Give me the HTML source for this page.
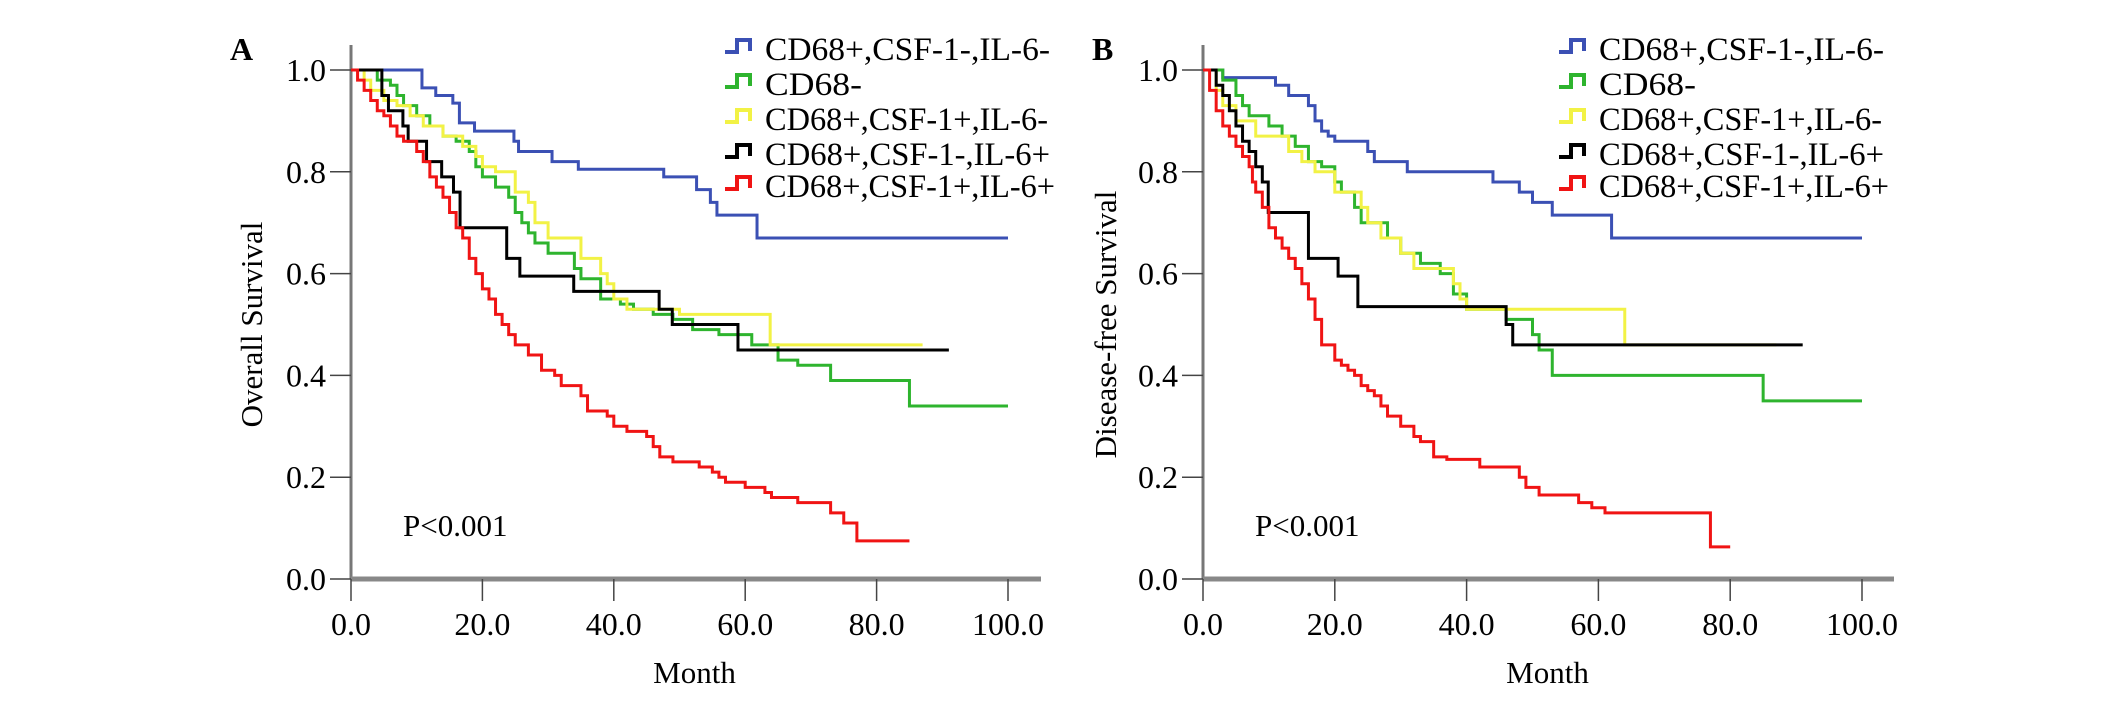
<!DOCTYPE html>
<html><head><meta charset="utf-8"><style>
body{margin:0;background:#fff}
svg{display:block;font-family:"Liberation Serif",serif}
</style></head><body>
<svg id="chart" width="2126" height="713" viewBox="0 0 2126 713" xmlns="http://www.w3.org/2000/svg"></svg>
<script>
const xTicks=[0,20,40,60,80,100];
const yTicks=[0,0.2,0.4,0.6,0.8,1.0];
const seriesNames=["CD68+,CSF-1-,IL-6-","CD68-","CD68+,CSF-1+,IL-6-","CD68+,CSF-1-,IL-6+","CD68+,CSF-1+,IL-6+"];
const seriesColors=["#3b50b4","#2eb42e","#f2f245","#000000","#f01414"];
// Panel A (overall survival): [month, survival]
const osBlue=[[0,1],[10.8,0.965],[12.9,0.95],[15.5,0.935],[16.5,0.896],[18.8,0.88],[24.8,0.86],[25.5,0.84],[30.6,0.82],[34.6,0.805],[47.6,0.79],[52.6,0.765],[54.7,0.74],[55.7,0.715],[61.8,0.67],[100,0.67]];
const osGreen=[[0,1],[4,0.98],[6,0.97],[7,0.95],[8,0.93],[10,0.91],[12,0.89],[14,0.87],[16,0.86],[18,0.84],[19,0.81],[20,0.79],[22,0.77],[24,0.75],[25,0.72],[26,0.70],[27,0.68],[28,0.66],[30,0.64],[34,0.61],[35,0.59],[38,0.55],[41,0.54],[43,0.53],[46,0.52],[49,0.51],[52,0.49],[56,0.48],[61,0.46],[65,0.43],[68,0.42],[73,0.39],[85,0.34],[100,0.34]];
const osYellow=[[0,1],[2,0.98],[3,0.96],[5,0.94],[7,0.93],[9,0.91],[11,0.89],[14,0.87],[17,0.85],[19,0.83],[20,0.81],[22,0.80],[25,0.76],[27,0.74],[28,0.70],[30,0.67],[35,0.63],[38,0.60],[39,0.58],[40,0.55],[42,0.53],[50,0.52],[63.8,0.46],[87,0.46]];
const osBlack=[[0,1],[4.7,0.95],[5.7,0.92],[7.9,0.89],[8.7,0.86],[11.5,0.82],[13.8,0.79],[15.6,0.76],[16.6,0.69],[23.7,0.63],[25.7,0.595],[33.9,0.565],[46.9,0.53],[48.9,0.50],[58.9,0.45],[91,0.45]];
const osRed=[[0,1],[1,0.98],[2,0.96],[3,0.94],[4,0.92],[5,0.91],[6,0.89],[7,0.87],[8,0.86],[10,0.84],[11,0.82],[12,0.79],[13,0.77],[14,0.75],[15,0.72],[16,0.69],[17,0.67],[18,0.63],[19,0.60],[20,0.57],[21,0.55],[22,0.52],[23,0.50],[24,0.48],[25,0.46],[27,0.44],[29,0.41],[31,0.40],[32,0.38],[35,0.36],[36,0.33],[39,0.32],[40,0.30],[42,0.29],[45,0.28],[46,0.26],[47,0.24],[49,0.23],[53,0.22],[55,0.21],[56,0.20],[57,0.19],[60,0.18],[63,0.17],[64,0.16],[68,0.15],[73,0.13],[75,0.11],[77,0.075],[85,0.075]];
// Panel B (disease-free survival)
const dfsBlue=[[0,1],[3,0.985],[11,0.97],[13,0.95],[16,0.93],[17,0.90],[18,0.88],[19,0.87],[20,0.86],[25,0.84],[26,0.82],[31,0.80],[44,0.78],[48,0.76],[50,0.74],[53,0.715],[62,0.67],[100,0.67]];
const dfsGreen=[[0,1],[3,0.98],[5,0.95],[6,0.93],[7,0.91],[10,0.89],[12,0.87],[14,0.85],[16,0.82],[18,0.81],[20,0.78],[21,0.76],[23,0.73],[24,0.70],[28,0.67],[30,0.64],[33,0.62],[36,0.60],[38,0.56],[40,0.53],[46,0.51],[50,0.48],[51,0.45],[53,0.40],[85,0.35],[100,0.35]];
const dfsYellow=[[0,1],[2,0.96],[3,0.93],[5,0.90],[8,0.87],[13,0.84],[15,0.82],[17,0.80],[20,0.76],[24,0.73],[25,0.70],[27,0.67],[30,0.64],[32,0.61],[38,0.58],[39,0.55],[40,0.53],[64,0.46],[87,0.46]];
const dfsBlack=[[0,1],[2,0.97],[3,0.95],[4,0.92],[5,0.89],[6,0.86],[7,0.84],[8,0.81],[9,0.78],[9.9,0.72],[16,0.63],[20.5,0.595],[23.5,0.535],[46,0.50],[47,0.46],[91,0.46]];
const dfsRed=[[0,1],[1,0.96],[2,0.92],[3,0.89],[4,0.87],[5,0.85],[6,0.83],[7,0.81],[7.5,0.78],[8,0.76],[9,0.73],[10,0.69],[11,0.67],[12,0.65],[13,0.63],[14,0.61],[15,0.58],[16,0.55],[17,0.51],[18,0.46],[20,0.43],[21,0.42],[22,0.41],[23,0.40],[24,0.38],[25,0.37],[26,0.36],[27,0.34],[28,0.32],[30,0.30],[32,0.28],[33,0.27],[35,0.24],[37,0.235],[42,0.22],[48,0.20],[49,0.18],[51,0.165],[57,0.15],[59,0.14],[61,0.13],[77,0.063],[80,0.063]];

const NS="http://www.w3.org/2000/svg";
const svg=document.getElementById('chart');
function mk(tag,attrs,parent){const e=document.createElementNS(NS,tag);for(const k in attrs)e.setAttribute(k,attrs[k]);(parent||svg).appendChild(e);return e;}

const panels=[
 {id:'a',letter:'A',x0:351,x1:1008,axEnd:1041,ylab:'Overall Survival',ylx:262,series:[osBlue,osGreen,osYellow,osBlack,osRed],legX:725,letterX:230},
 {id:'b',letter:'B',x0:1203,x1:1862,axEnd:1894,ylab:'Disease-free Survival',ylx:1116,series:[dfsBlue,dfsGreen,dfsYellow,dfsBlack,dfsRed],legX:1559,letterX:1092}
];
const legY=[60,95,130,165,197];
const legW=[285,97,283,285,290];
const Y0=579,Y1=70;
panels.forEach(p=>{
 const g=mk('g',{});
 
 
 const sx=v=>p.x0+(p.x1-p.x0)*v/100;
 const sy=v=>Y0-(Y0-Y1)*v;
 const L=mk('text',{x:p.letterX,y:60,'font-size':32,'font-weight':'bold'},g);L.textContent=p.letter;
 
 
 const ya=mk('line',{x1:p.x0,y1:45,x2:p.x0,y2:Y0,stroke:'#777','stroke-width':3},g);
 
 
 const xa=mk('line',{x1:p.x0,y1:Y0,x2:p.axEnd,y2:Y0,stroke:'#888','stroke-width':5},g);
 
 
 yTicks.forEach(t=>{
  mk('line',{x1:p.x0-21,y1:sy(t),x2:p.x0,y2:sy(t),stroke:'#444','stroke-width':1.5},g);
  const tx=mk('text',{x:p.x0-25,y:sy(t)+11,'font-size':32,'text-anchor':'end'},g);
  tx.textContent=t.toFixed(1);
  
  
 });
 xTicks.forEach(t=>{
  mk('line',{x1:sx(t),y1:Y0,x2:sx(t),y2:Y0+22,stroke:'#444','stroke-width':1.5},g);
  const tx=mk('text',{x:sx(t),y:635,'font-size':32,'text-anchor':'middle'},g);
  tx.textContent=t.toFixed(1);
  
  
 });
 const xt=mk('text',{x:(p.x0+p.x1)/2+15,y:683,'font-size':31,'text-anchor':'middle'},g);xt.textContent='Month';
 
 
 const yt=mk('text',{x:0,y:0,'font-size':31,'text-anchor':'middle',transform:`translate(${p.ylx},${(Y0+Y1)/2}) rotate(-90)`},g);yt.textContent=p.ylab;
 
 
 const pv=mk('text',{x:p.x0+52,y:536,'font-size':31},g);pv.textContent='P<0.001';
 
 
 p.series.forEach((s,i)=>{
  let d='M'+sx(s[0][0])+','+sy(s[0][1]);
  for(let k=1;k<s.length;k++){d+=' H'+sx(s[k][0])+' V'+sy(s[k][1]);}
  const path=mk('path',{d:d,fill:'none',stroke:seriesColors[i],'stroke-width':3},g);
  
  
 });
 seriesNames.forEach((n,i)=>{
  const y=legY[i];
  const lg=mk('g',{},g);
  
  
  mk('path',{d:`M${p.legX},${y-8} H${p.legX+12} V${y-20} H${p.legX+25} V${y-9}`,fill:'none',stroke:seriesColors[i],'stroke-width':4},lg);
  const t=mk('text',{x:p.legX+40,y:y,'font-size':33,textLength:legW[i],lengthAdjust:'spacingAndGlyphs'},lg);t.textContent=n;
 });
});
</script>
</body></html>
